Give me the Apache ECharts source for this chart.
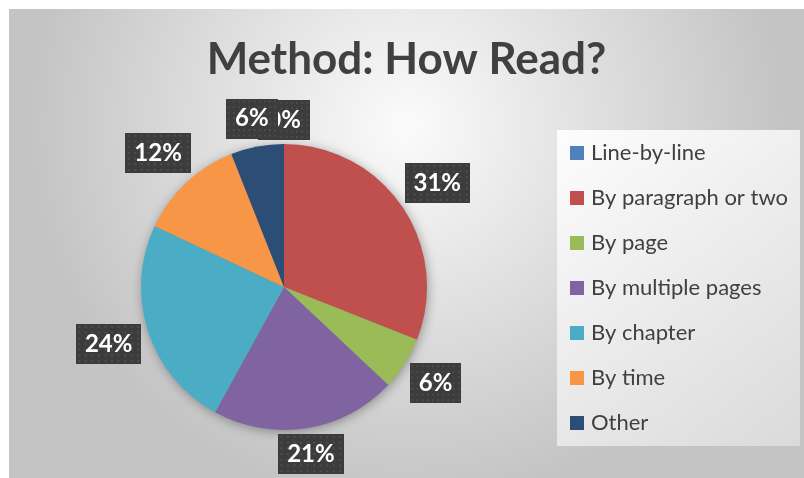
<!DOCTYPE html>
<html>
<head>
<meta charset="utf-8">
<script src="https://cdn.jsdelivr.net/npm/echarts@6/dist/echarts.min.js"></script>
<style>
  html, body { margin: 0; padding: 0; background: #fff; }
  #main { position: absolute; left: 9px; top: 9px; width: 795px; height: 469px; }
</style>
</head>
<body>
<div id="main"></div>
<script>
  // chart data
  var categories = ['Line-by-line', 'By paragraph or two', 'By page', 'By multiple pages', 'By chapter', 'By time', 'Other'];
  var shares = [0, 31, 6, 21, 24, 12, 6];
  var palette = ['#4f81bd', '#c0504d', '#9bbb59', '#8064a2', '#4bacc6', '#f79646', '#2c4d75'];

  var font = 'Lato, "Open Sans", sans-serif';
  var chartH = 469;
  var labelGap = 4;        // space between pie edge and label box
  var labelFont = 24;
  var labelPad = [8, 9, 8, 9];

  // dotted dark texture for the data label boxes
  function dotTexture() {
    var c = document.createElement('canvas');
    c.width = 60; c.height = 42;
    var ctx = c.getContext('2d');
    ctx.fillStyle = '#3c3c3c';
    ctx.fillRect(0, 0, c.width, c.height);
    ctx.fillStyle = '#4e4e4e';
    for (var y = 2; y < c.height; y += 6) {
      for (var x = 2; x < c.width; x += 6) {
        ctx.fillRect(x, y, 2, 2);
      }
    }
    return c;
  }

  var measureCtx = document.createElement('canvas').getContext('2d');
  function boxSize(text) {
    measureCtx.font = 'bold ' + labelFont + 'px ' + font;
    return {
      w: measureCtx.measureText(text).width + labelPad[1] + labelPad[3],
      h: labelFont + labelPad[0] + labelPad[2]
    };
  }

  var pieData = categories.map(function (name, i) {
    return { name: name, value: shares[i], itemStyle: { color: palette[i] } };
  });

  var chart = echarts.init(document.getElementById('main'));
  var option = {
    backgroundColor: {
      type: 'radial', x: 0.5, y: 0.25, r: 0.8,
      colorStops: [{ offset: 0, color: '#fbfbfb' }, { offset: 1, color: '#c4c4c4' }]
    },
    animation: false,
    title: {
      text: 'Method: How Read?',
      left: 'center',
      top: 24,
      textStyle: { fontFamily: font, fontSize: 44, fontWeight: 'bold', color: '#404040' }
    },
    legend: {
      data: categories,
      orient: 'vertical',
      left: 548,
      top: 121,
      icon: 'rect',
      itemWidth: 14,
      itemHeight: 14,
      itemGap: 23,
      padding: [12, 12, 12, 13],
      backgroundColor: {
        type: 'linear', x: 0, y: 0, x2: 1, y2: 1,
        colorStops: [{ offset: 0, color: '#fdfdfd' }, { offset: 1, color: '#dadada' }]
      },
      textStyle: { fontFamily: font, fontSize: 22, lineHeight: 22, color: '#404040', padding: [0, 0, 0, 2] }
    },
    series: [
      {
        // soft shadow under the whole pie
        type: 'pie',
        center: [275, 278],
        radius: 142,
        silent: true,
        z: 1,
        label: { show: false },
        labelLine: { show: false },
        data: [{ value: 1, name: '', itemStyle: { color: '#888' } }],
        itemStyle: { shadowBlur: 12, shadowColor: 'rgba(0,0,0,0.4)', shadowOffsetX: 1, shadowOffsetY: 2 }
      },
      {
        name: 'Method',
        type: 'pie',
        center: [275, 278],
        radius: 143,
        startAngle: 90,
        z: 2,
        avoidLabelOverlap: false,
        itemStyle: { borderWidth: 0 },
        emphasis: { disabled: true },
        labelLine: { show: true, length: 30, length2: 0, lineStyle: { width: 0, color: 'rgba(0,0,0,0)' } },
        label: {
          show: true,
          position: 'outside',
          formatter: function (p) { return p.value + '%'; },
          fontFamily: font,
          fontSize: labelFont,
          lineHeight: labelFont,
          fontWeight: 'bold',
          color: '#fff',
          backgroundColor: { image: dotTexture() },
          padding: labelPad,
          shadowColor: 'rgba(0,0,0,0.45)',
          shadowBlur: 6,
          shadowOffsetX: 3,
          shadowOffsetY: 3
        },
        // put each label box just outside the pie edge along its slice's mid direction
        labelLayout: function (p) {
          var pts = p.labelLinePoints;
          if (!pts) return {};
          var dx = pts[1][0] - pts[0][0], dy = pts[1][1] - pts[0][1];
          var len = Math.sqrt(dx * dx + dy * dy) || 1;
          var ux = dx / len, uy = dy / len;
          var b = boxSize(p.text);
          var ext = Math.abs(ux) * b.w / 2 + Math.abs(uy) * b.h / 2;
          var x = pts[0][0] + ux * (labelGap + ext);
          var y = pts[0][1] + uy * (labelGap + ext);
          y = Math.min(y, chartH - b.h / 2 - 4);
          return { x: x, y: y, align: 'center', verticalAlign: 'middle' };
        },
        data: pieData
      }
    ]
  };
  chart.setOption(option);
</script>
</body>
</html>
